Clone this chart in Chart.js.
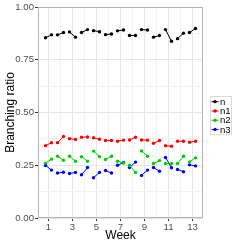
<!DOCTYPE html>
<html>
<head>
<meta charset="utf-8">
<script src="https://cdn.jsdelivr.net/npm/chart.js@4"></script>
<style>
  body { margin: 0; background: #fff; }
  #wrap { width: 245px; height: 245px; }
</style>
</head>
<body>
<div id="wrap"><canvas id="chart"></canvas></div>
<script>
// datos: dos mediciones por semana
const weeks = [1, 2, 3, 4, 5, 6, 7, 8, 9, 10, 11, 12, 13];
const halfOffsets = [-0.25, 0.25];
const seriesNames = ['n', 'n1', 'n2', 'n3'];
const seriesColors = ['#000000', '#ff0000', '#00cc00', '#0000ff'];
const nVals = [[0.854, 0.868], [0.868, 0.879], [0.882, 0.857], [0.879, 0.893], [0.888, 0.883],
  [0.869, 0.872], [0.887, 0.891], [0.865, 0.865], [0.893, 0.891], [0.857, 0.865],
  [0.893, 0.838], [0.850, 0.876], [0.879, 0.898]];
const n1Vals = [[0.343, 0.357], [0.357, 0.386], [0.376, 0.372], [0.383, 0.384], [0.380, 0.373],
  [0.367, 0.367], [0.364, 0.369], [0.370, 0.383], [0.370, 0.369], [0.354, 0.367],
  [0.343, 0.340], [0.364, 0.364], [0.359, 0.364]];
const n2Vals = [[0.260, 0.279], [0.293, 0.274], [0.293, 0.269], [0.290, 0.269], [0.317, 0.291],
  [0.277, 0.293], [0.269, 0.261], [0.250, 0.216], [0.318, 0.293], [0.258, 0.272],
  [0.258, 0.258], [0.258, 0.293], [0.266, 0.285]];
const n3Vals = [[0.249, 0.227], [0.213, 0.217], [0.211, 0.216], [0.205, 0.239], [0.191, 0.216],
  [0.225, 0.213], [0.250, 0.263], [0.239, 0.265], [0.202, 0.227], [0.239, 0.222],
  [0.287, 0.238], [0.230, 0.219], [0.252, 0.247]];
const xTickLabels = ['1', '3', '5', '7', '9', '11', '13'];
const yTickLabels = ['0.00', '0.25', '0.50', '0.75', '1.00'];
const yTickValues = [0, 0.125, 0.25, 0.375, 0.5, 0.625, 0.75, 0.875, 1];

function toPoints(vals) {
  const pts = [];
  vals.forEach((pair, i) => {
    pair.forEach((v, j) => pts.push({ x: weeks[i] + halfOffsets[j], y: v }));
    pts.push({ x: weeks[i] + 0.5, y: null }); // corte entre semanas
  });
  return pts;
}

const allVals = [nVals, n1Vals, n2Vals, n3Vals];
const datasets = seriesNames.map((name, k) => ({
  label: name,
  data: toPoints(allVals[k]),
  borderColor: seriesColors[k],
  backgroundColor: seriesColors[k],
  borderWidth: 1,
  pointRadius: 1.7,
  pointBorderWidth: 0,
  spanGaps: false
}));

const isMajorY = v => yTickLabels.includes(v.toFixed(2));
const xLabelOf = v => xTickLabels.includes(String(v)) ? String(v) : '';

// marco del panel y leyenda estilo ggplot
const panelPlugin = {
  id: 'panel',
  afterDraw(chart) {
    const ctx = chart.ctx;
    const a = chart.chartArea;
    ctx.save();
    ctx.strokeStyle = '#b3b3b3';
    ctx.lineWidth = 1;
    ctx.strokeRect(a.left + 0.5, a.top + 0.5, a.right - a.left - 1, a.bottom - a.top - 1);
    // leyenda
    const lx = 210, ly = 96, rowH = 9.3;
    ctx.strokeStyle = '#d9d9d9';
    ctx.strokeRect(lx + 0.5, ly + 0.5, 21, rowH * seriesNames.length + 1);
    ctx.font = '9.6px "Liberation Sans", Arial, sans-serif';
    ctx.textBaseline = 'middle';
    seriesNames.forEach((name, k) => {
      const cy = ly + 1 + rowH * k + rowH / 2;
      ctx.strokeStyle = seriesColors[k];
      ctx.fillStyle = seriesColors[k];
      ctx.beginPath();
      ctx.moveTo(lx + 1.5, cy);
      ctx.lineTo(lx + 8.5, cy);
      ctx.stroke();
      ctx.beginPath();
      ctx.arc(lx + 5, cy, 1.7, 0, Math.PI * 2);
      ctx.fill();
      ctx.fillStyle = '#000';
      ctx.fillText(name, lx + 10, cy + 0.5);
    });
    ctx.restore();
  }
};

Chart.defaults.font.family = '"Liberation Sans", Arial, sans-serif';

new Chart(document.getElementById('chart').getContext('2d'), {
  type: 'line',
  data: { datasets: datasets },
  options: {
    responsive: true,
    maintainAspectRatio: false,
    animation: false,
    layout: { padding: { top: 7, right: 42, left: 0, bottom: 0 } },
    plugins: { legend: { display: false }, tooltip: { enabled: false } },
    scales: {
      x: {
        type: 'linear',
        min: 0.125,
        max: 13.875,
        afterBuildTicks: scale => { scale.ticks = weeks.map(w => ({ value: w })); },
        afterFit: scale => { scale.height = 27; },
        border: { display: false },
        grid: {
          color: ctx => xLabelOf(ctx.tick.value) ? '#e6e6e6' : '#f2f2f2',
          tickColor: ctx => xLabelOf(ctx.tick.value) ? '#333333' : 'rgba(0,0,0,0)',
          tickLength: 3
        },
        ticks: {
          autoSkip: false,
          maxRotation: 0,
          padding: 1,
          color: '#4d4d4d',
          font: { size: 9.6 },
          callback: v => xLabelOf(v)
        },
        title: { display: true, text: 'Week', color: '#000', font: { size: 12 }, padding: { top: 0, bottom: 2 } }
      },
      y: {
        min: 0,
        max: 1,
        afterBuildTicks: scale => { scale.ticks = yTickValues.map(v => ({ value: v })); },
        afterFit: scale => { scale.width = 38; },
        border: { display: false },
        grid: {
          color: ctx => isMajorY(ctx.tick.value) ? '#e6e6e6' : '#f2f2f2',
          tickColor: ctx => isMajorY(ctx.tick.value) ? '#333333' : 'rgba(0,0,0,0)',
          tickLength: 3
        },
        ticks: {
          autoSkip: false,
          padding: 1,
          color: '#4d4d4d',
          font: { size: 9.6 },
          callback: v => isMajorY(v) ? v.toFixed(2) : ''
        },
        title: { display: true, text: 'Branching ratio', color: '#000', font: { size: 12 }, padding: { top: 3, bottom: 0 } }
      }
    }
  },
  plugins: [panelPlugin]
});
</script>
</body>
</html>
